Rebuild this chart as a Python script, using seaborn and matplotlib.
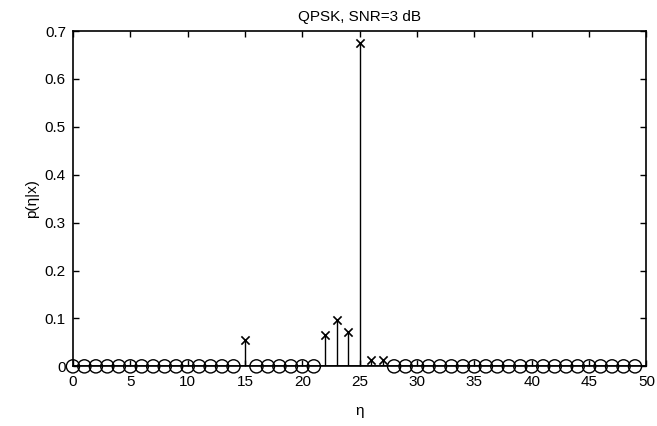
import numpy as np
import pandas as pd
import matplotlib
matplotlib.use("Agg")
import matplotlib.pyplot as plt
import seaborn as sns

# Datos
eta = list(range(50))
nonzero_eta = [15, 22, 23, 24, 25, 26, 27]
nonzero_p = [0.056, 0.066, 0.097, 0.072, 0.676, 0.013, 0.014]

p = [0.0] * 50
for e, v in zip(nonzero_eta, nonzero_p):
    p[e] = v

df = pd.DataFrame({'eta': eta, 'p': p})
df_nz = df[df['p'] > 0]
df_z = df[df['p'] == 0]

sns.set_style("ticks")
plt.rcParams['font.family'] = ['Liberation Sans', 'DejaVu Sans']
plt.rcParams['font.size'] = 11
plt.rcParams['text.color'] = 'black'
plt.rcParams['axes.labelcolor'] = 'black'

fig, ax = plt.subplots(figsize=(6.57, 4.26), dpi=100)

# Tallos
ax.vlines(df_nz['eta'], 0, df_nz['p'], color='black', linewidth=1)
ax.axhline(0, color='black', linewidth=1.2)

# Marcadores
sns.scatterplot(x='eta', y='p', data=df_nz, marker='x', color='black', s=35, linewidth=1.2, ax=ax, zorder=3)
sns.scatterplot(x='eta', y='p', data=df_z, marker='o', facecolor='none', edgecolor='black', s=90, linewidth=1, ax=ax, zorder=3, clip_on=False)

ax.set_xlim(0, 50)
ax.set_ylim(0, 0.7)
ax.set_xticks(range(0, 51, 5))
ax.set_yticks(np.arange(0, 0.71, 0.1))
ax.set_yticklabels(['0', '0.1', '0.2', '0.3', '0.4', '0.5', '0.6', '0.7'])
ax.tick_params(direction='in', top=True, right=True, length=4, width=1, colors='black', labelsize=11)
ax.tick_params(axis='x', pad=6)
ax.tick_params(axis='y', pad=5)
for s in ax.spines.values():
    s.set_linewidth(1.2)
    s.set_color('black')

ax.set_xlabel('η', labelpad=11)
ax.set_ylabel('p(η|x)', labelpad=4)
ax.set_title('QPSK, SNR=3 dB', fontsize=11, pad=7, color='black')

fig.subplots_adjust(left=0.111, right=0.984, top=0.927, bottom=0.14)
fig.savefig('out.png', dpi=100)
